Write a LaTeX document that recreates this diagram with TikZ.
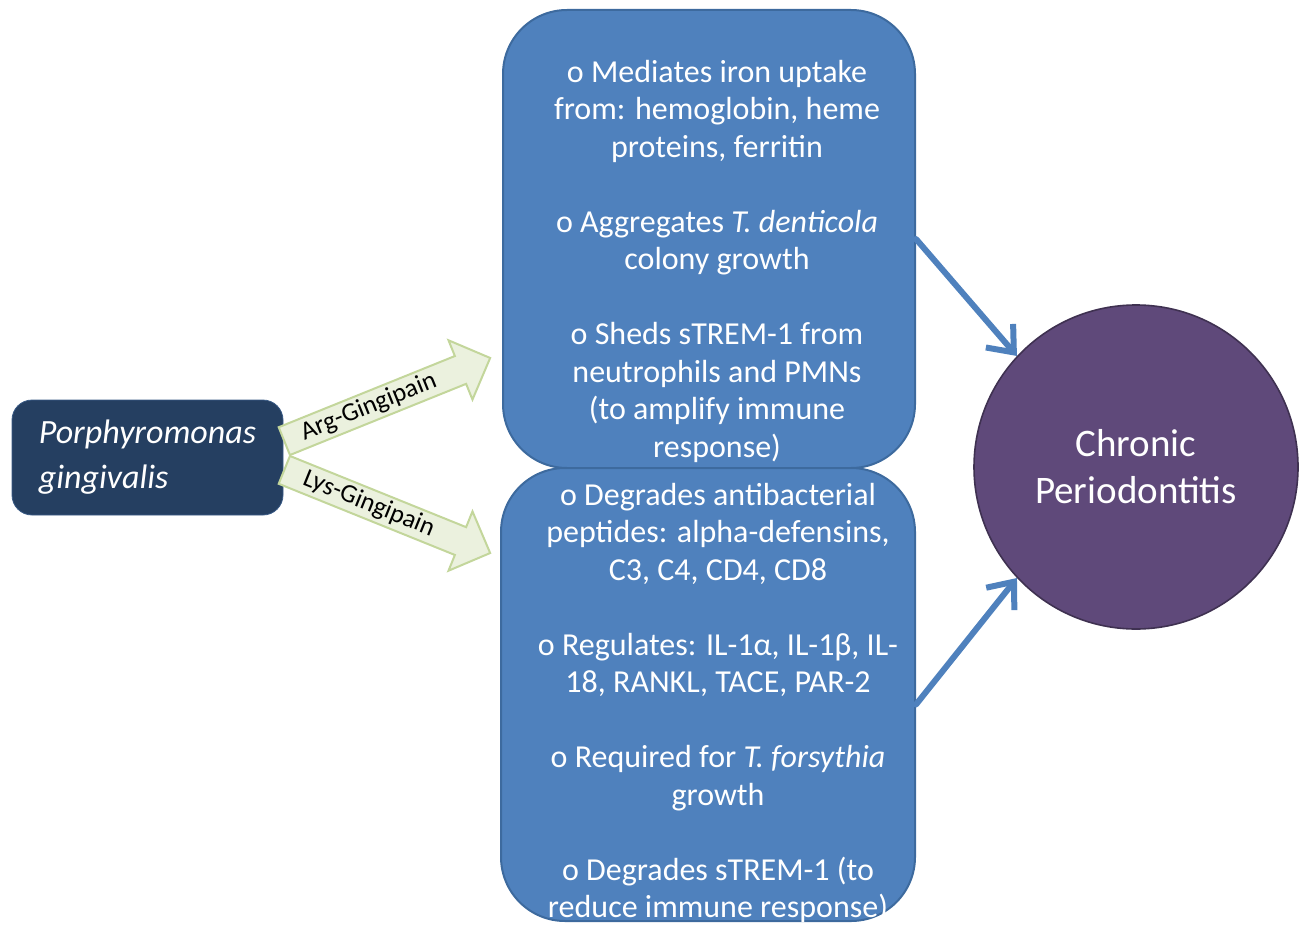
\documentclass[tikz,border=0pt]{standalone}
\usepackage{fontspec}
\setmainfont{Carlito}
\usetikzlibrary{shapes.geometric, shapes.arrows, arrows.meta, positioning, calc}
\definecolor{bacterianavy}{HTML}{253F61}
\definecolor{bacteriaedge}{HTML}{3A5B86}
\definecolor{effectblue}{HTML}{4F81BD}
\definecolor{effectedge}{HTML}{3D6A9E}
\definecolor{diseasepurple}{HTML}{5F497A}
\definecolor{diseaseedge}{HTML}{3F3151}
\definecolor{enzymefill}{HTML}{EBF1DE}
\definecolor{enzymeedge}{HTML}{C3D69B}

\begin{document}
\begin{tikzpicture}[x=0.5pt, y=-0.5pt,
  infobox/.style={draw=effectedge, line width=1pt, fill=effectblue,
                  rounded corners=32pt},
  infotext/.style={text=white, align=center,
                   font=\fontsize{16}{18.75}\selectfont},
  enzymearrow/.style={single arrow, draw=enzymeedge, fill=enzymefill,
                      line width=1pt, minimum height=111pt, minimum width=31pt,
                      single arrow head extend=8.5pt, inner xsep=0pt, inner ysep=7pt},
  enzymelabel/.style={font=\fontsize{13}{15}\selectfont, text=black},
  effectarrow/.style={draw=effectblue, line width=3pt, line cap=round,
                      -{Straight Barb[length=11pt, width=18pt]}}]
  \useasboundingbox (0,0) rectangle (1310,925);

  % Bacterium
  \node[draw=bacteriaedge, fill=bacterianavy, rounded corners=10pt,
        minimum width=135.5pt, minimum height=57.5pt, text=white, align=left,
        font=\fontsize{17}{22.5}\selectfont\itshape]
        (bacterium) at (147.5,457.5) {Porphyromonas\\gingivalis};

  % Effects of the gingipains
  \node[infobox, minimum width=206pt, minimum height=229pt] (topBox) at (709,239) {};
  \node[infotext] (topText) at (717,261) {%
    o Mediates iron uptake\\
    from: hemoglobin, heme\\
    proteins, ferritin\\[18.75pt]
    o Aggregates \textit{T. denticola}\\
    colony growth\\[18.75pt]
    o Sheds sTREM-1 from\\
    neutrophils and PMNs\\
    (to amplify immune\\
    response)};
  \node[infobox, minimum width=207pt, minimum height=226.5pt] (botBox) at (708,694.5) {};
  \node[infotext] (botText) at (718,703) {%
    o Degrades antibacterial\\
    peptides: alpha-defensins,\\
    C3, C4, CD4, CD8\\[18.75pt]
    o Regulates: IL-1α, IL-1β, IL-\\
    18, RANKL, TACE, PAR-2\\[18.75pt]
    o Required for \textit{T. forsythia}\\
    growth\\[18.75pt]
    o Degrades sTREM-1 (to\\
    reduce immune response)};

  % Disease
  \node[circle, fill=diseasepurple, draw=diseaseedge, line width=0.8pt,
        minimum size=162pt, text=white, align=center,
        font=\fontsize{19.5}{23.5}\selectfont]
        (disease) at (1136,467) {Chronic\\Periodontitis};

  % Gingipain arrows
  \node[enzymearrow, rotate=22, anchor=tail] (argArrow) at ([yshift=8pt]bacterium.east) {};
  \node[enzymearrow, rotate=-22, anchor=tail] (lysArrow) at ([yshift=-6pt]bacterium.east) {};
  \node[enzymelabel, rotate=22] (argLabel) at ($(argArrow.tail)!0.41!(argArrow.tip)$) {Arg-Gingipain};
  \node[enzymelabel, rotate=-22] (lysLabel) at ($(lysArrow.tail)!0.41!(lysArrow.tip)$) {Lys-Gingipain};

  % Effect arrows
  \draw[effectarrow] (topBox.east) -- (disease.137);
  \draw[effectarrow] ([yshift=-5pt]botBox.east) -- (disease.223);
\end{tikzpicture}
\end{document}
